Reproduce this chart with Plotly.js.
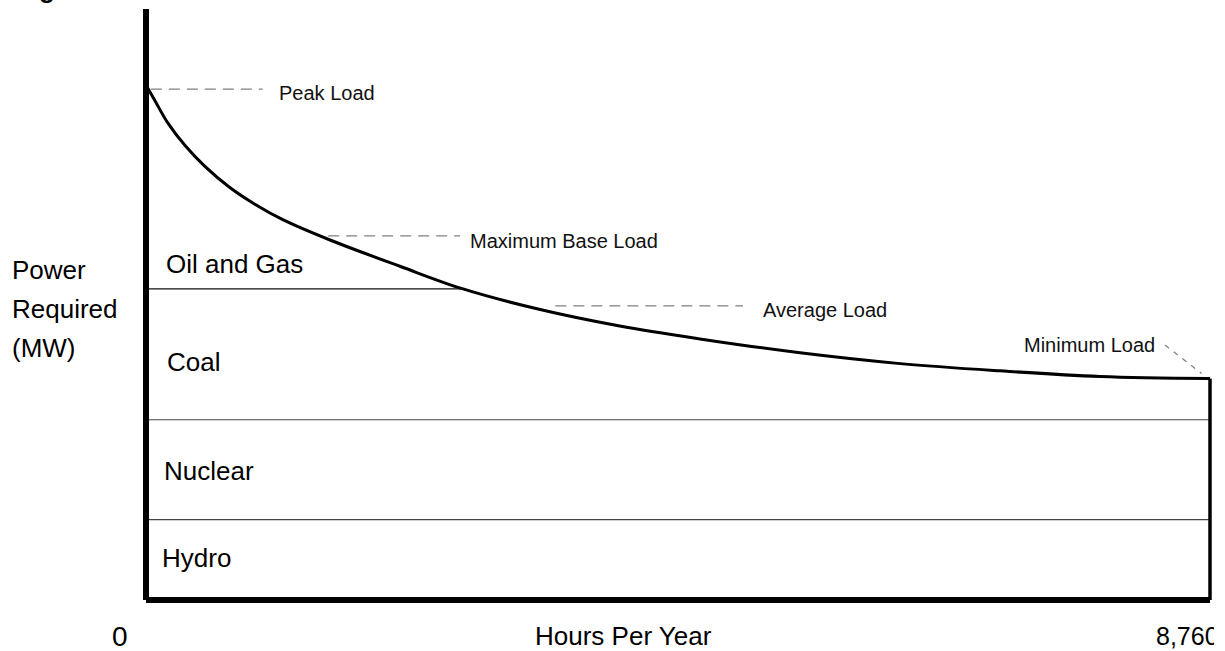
<!DOCTYPE html>
<html>
<head>
<meta charset="utf-8">
<script src="https://cdn.plot.ly/plotly-3.0.1.min.js"></script>
<style>html,body{margin:0;padding:0;background:#fff;}#chart{width:1225px;height:651px;}</style>
</head>
<body>
<div id="chart"></div>
<script>
// ---------- data ----------
const hours  = [0, 75, 175, 320, 485, 690, 900, 1130, 1515, 2090, 2610, 3245, 3900, 4560, 5385, 6210, 7030, 7855, 8760];
const loadMW = [100, 96.9, 92.8, 88.3, 84.2, 80.1, 76.8, 73.8, 69.9, 64.8, 60.4, 56.4, 53.2, 50.7, 48.0, 45.9, 44.5, 43.4, 43.0];

const tierNames  = ['Hydro', 'Nuclear', 'Coal', 'Oil and Gas'];
const tierTops   = [15.6, 35.0, 60.4];          // upper edge of Hydro, Nuclear, Coal
const tierLabelY = [8.2, 25.0, 46.2, 65.2];     // label heights (MW)

const loadNames  = ['Peak Load', 'Maximum Base Load', 'Average Load', 'Minimum Load'];
const loadLevels = [99.2, 70.7, 57.1, 49.5];    // leader-line heights (MW)
const leaderFrom = [40, 1500, 3370, 8390];      // leader start (hours)
const leaderTo   = [960, 2585, 4915, 8690];     // leader end (hours)
const leaderEndY = [99.2, 70.7, 57.1, 44.0];

const yTitleLines = ['Power', 'Required', '(MW)'];
const xTitle = 'Hours Per Year';
const xTickLabels = ['0', '8,760'];
const yAxisTop = 114.76;

// ---------- geometry ----------
const W = 1225, H = 651;
const M = {l: 138, r: 8, t: 4, b: 45};
const plotW = W - M.l - M.r, plotH = H - M.t - M.b;
const x0px = 146, x1px = 1210;               // pixel of 0 and 8760 hours
const kx = (x1px - x0px) / hours[hours.length - 1];
const y0px = 600, ky = 5.15;                  // pixel of 0 MW, px per MW
const xMin = hours[0] - (x0px - M.l) / kx;
const xMax = hours[hours.length - 1] + (M.l + plotW - x1px) / kx;
const yMin = -((M.t + plotH) - y0px) / ky;
const yMax = (y0px - M.t) / ky;
const px2paperX = px => (px - M.l) / plotW;
const py2paperY = py => ((M.t + plotH) - py) / plotH;

const FONT = 'Liberation Sans, Arial, Helvetica, sans-serif';
const xEnd = hours[hours.length - 1];
const minLoad = loadMW[loadMW.length - 1];

// where the curve reaches the coal/oil boundary
function curveHoursAt(level) {
  for (let i = 1; i < loadMW.length; i++) {
    if (loadMW[i] <= level) {
      const t = (loadMW[i - 1] - level) / (loadMW[i - 1] - loadMW[i]);
      return hours[i - 1] + t * (hours[i] - hours[i - 1]);
    }
  }
  return xEnd;
}

const traces = [];
// load duration curve
traces.push({x: hours, y: loadMW, mode: 'lines', line: {color: '#000', width: 3, shape: 'spline', smoothing: 1}, hoverinfo: 'skip'});

const shapes = [];
// tier boundaries
tierTops.forEach((lvl, i) => {
  const xe = (i === tierTops.length - 1) ? curveHoursAt(lvl) : xEnd;
  shapes.push({type: 'line', xref: 'x', yref: 'y', x0: 0, x1: xe, y0: lvl, y1: lvl,
    line: {color: i === tierTops.length - 1 ? '#111' : '#444', width: 1.2}});
});
// leader lines
loadNames.forEach((n, i) => {
  shapes.push({type: 'line', xref: 'x', yref: 'y', x0: leaderFrom[i], x1: leaderTo[i], y0: loadLevels[i], y1: leaderEndY[i],
    line: {color: '#808080', width: 1.3, dash: i === 3 ? '5px,6px' : '11px,7px'}});
});
// right edge at 8760 h
shapes.push({type: 'line', xref: 'x', yref: 'y', x0: xEnd, x1: xEnd, y0: 0, y1: minLoad, line: {color: '#000', width: 3.5}});
// axes
shapes.push({type: 'line', xref: 'x', yref: 'y', x0: 0, x1: 0, y0: 0, y1: yAxisTop, line: {color: '#000', width: 6}});
shapes.push({type: 'line', xref: 'x', yref: 'y', x0: 0, x1: xEnd, y0: 0, y1: 0, line: {color: '#000', width: 6}});

const annotations = [];
const tierLabelX = [115, 132, 156, 148];
tierNames.forEach((n, i) => {
  annotations.push({text: n, xref: 'x', yref: 'y', x: tierLabelX[i], y: tierLabelY[i], xanchor: 'left', yanchor: 'middle',
    showarrow: false, font: {family: FONT, size: 26, color: '#000'}});
});
const loadLabelX = [1080, 2650, 5060, 8324];
const loadLabelY = [98.4, 69.8, 56.3, 49.5];
loadNames.forEach((n, i) => {
  annotations.push({text: n, xref: 'x', yref: 'y', x: loadLabelX[i], y: loadLabelY[i], xanchor: i === 3 ? 'right' : 'left', yanchor: 'middle',
    showarrow: false, font: {family: FONT, size: 20, color: '#111'}});
});
const yTitlePy = [270, 309, 348];
yTitleLines.forEach((t, i) => {
  annotations.push({text: t, xref: 'paper', yref: 'paper', x: px2paperX(10), y: py2paperY(yTitlePy[i]), xanchor: 'left', yanchor: 'middle',
    showarrow: false, font: {family: FONT, size: 26, color: '#000'}});
});
annotations.push({text: xTickLabels[0], xref: 'paper', yref: 'paper', x: px2paperX(120), y: py2paperY(636), xanchor: 'center', yanchor: 'middle',
  showarrow: false, font: {family: FONT, size: 28, color: '#000'}});
annotations.push({text: xTitle, xref: 'paper', yref: 'paper', x: px2paperX(623), y: py2paperY(635.5), xanchor: 'center', yanchor: 'middle',
  showarrow: false, font: {family: FONT, size: 26, color: '#000'}});
annotations.push({text: xTickLabels[1], xref: 'paper', yref: 'paper', x: px2paperX(1155), y: py2paperY(636), xanchor: 'left', yanchor: 'middle',
  width: 58, align: 'left', borderpad: 0,
  showarrow: false, font: {family: FONT, size: 25, color: '#000'}});
// cropped title fragment at the very top
annotations.push({text: '<b>Figure</b>', xref: 'paper', yref: 'paper', x: px2paperX(14), y: py2paperY(-11), xanchor: 'left', yanchor: 'middle',
  showarrow: false, font: {family: FONT, size: 26, color: '#000'}});

const layout = {
  width: W, height: H, margin: M,
  paper_bgcolor: '#fff', plot_bgcolor: '#fff',
  showlegend: false,
  xaxis: {range: [xMin, xMax], visible: false, showgrid: false, zeroline: false, fixedrange: true},
  yaxis: {range: [yMin, yMax], visible: false, showgrid: false, zeroline: false, fixedrange: true},
  shapes: shapes,
  annotations: annotations
};

Plotly.newPlot('chart', traces, layout, {staticPlot: true, displayModeBar: false});
</script>
</body>
</html>
